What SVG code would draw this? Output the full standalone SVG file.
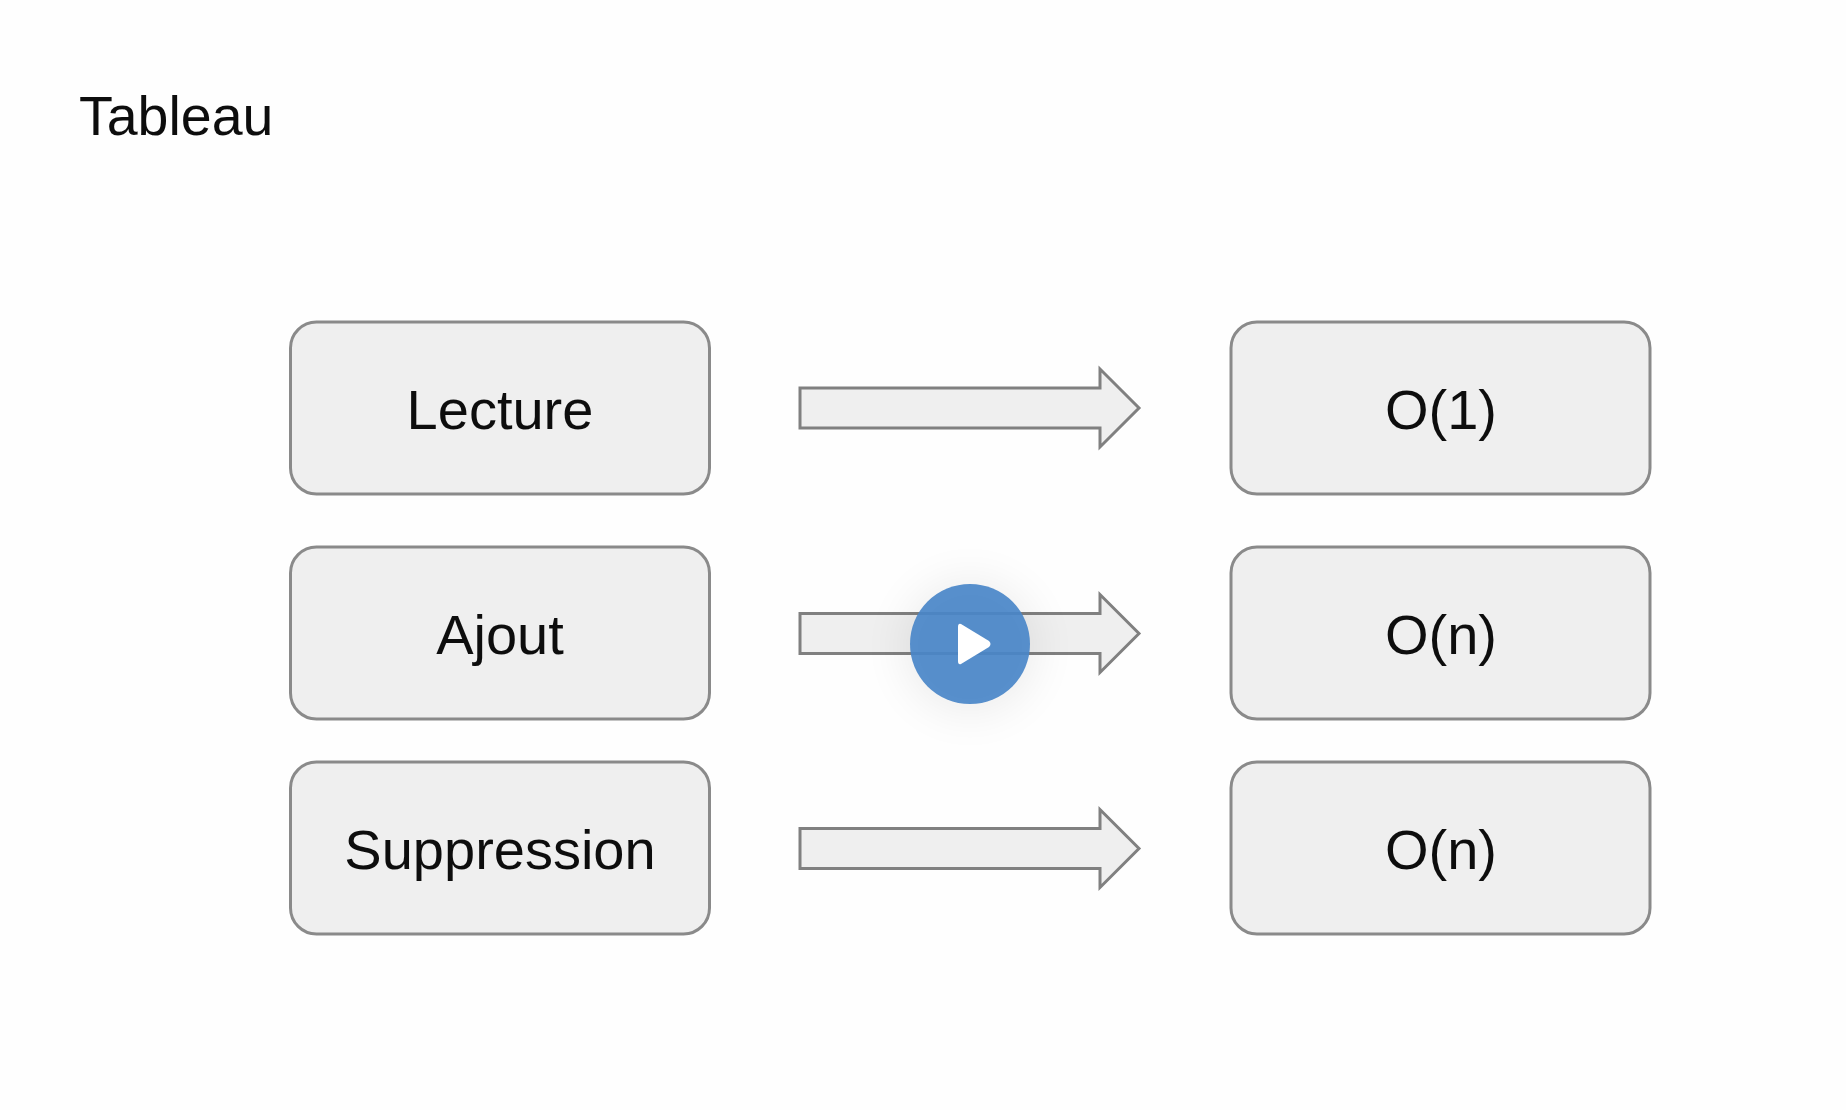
<svg xmlns="http://www.w3.org/2000/svg" width="1846" height="1110" viewBox="0 0 1846 1110">
  <style>
    .box { fill: #efefef; stroke: #8a8a8a; stroke-width: 3; }
    .arrow { fill: #efefef; stroke: #808080; stroke-width: 3; stroke-linejoin: miter; }
    text { font-family: "Liberation Sans", Arial, sans-serif; fill: #111; }
    .label { font-size: 56px; text-anchor: middle; }
    .title { font-size: 55.5px; }
  </style>
  <defs>
    <filter id="soft" x="-5%" y="-5%" width="110%" height="110%"><feGaussianBlur stdDeviation="0.7"/></filter>
    <filter id="shadow" x="-100%" y="-100%" width="300%" height="300%"><feGaussianBlur stdDeviation="24"/></filter>
    <path id="arr" d="M0 -20 H300 V-39 L339 0 L300 39 V20 H0 Z"/>
  </defs>
  <rect width="1846" height="1110" fill="#fefefe"/>
  <g filter="url(#soft)">
    <text id="title" class="title" x="79" y="134.5">Tableau</text>
    <g id="connectors">
      <use href="#arr" class="arrow" x="800" y="408"/>
      <use href="#arr" class="arrow" x="800" y="633.5"/>
      <use href="#arr" class="arrow" x="800" y="848.5"/>
    </g>
    <g id="lecture"><rect class="box" x="290.5" y="322" width="419" height="172" rx="26"/><text class="label" x="500" y="429">Lecture</text></g>
    <g id="ajout"><rect class="box" x="290.5" y="547" width="419" height="172" rx="26"/><text class="label" x="500" y="654">Ajout</text></g>
    <g id="suppression"><rect class="box" x="290.5" y="762" width="419" height="172" rx="26"/><text class="label" x="500" y="869">Suppression</text></g>
    <g id="o1"><rect class="box" x="1231" y="322" width="419" height="172" rx="26"/><text class="label" x="1441" y="429">O(1)</text></g>
    <g id="on1"><rect class="box" x="1231" y="547" width="419" height="172" rx="26"/><text class="label" x="1441" y="654">O(n)</text></g>
    <g id="on2"><rect class="box" x="1231" y="762" width="419" height="172" rx="26"/><text class="label" x="1441" y="869">O(n)</text></g>
  </g>
  <g id="play">
    <circle cx="970" cy="647" r="64" fill="#000" opacity="0.08" filter="url(#shadow)"/>
    <circle cx="970" cy="644" r="60" fill="#4986c8" fill-opacity="0.92"/>
    <path d="M961 624 L989 641 Q992 644 989 647 L961 664 Q958 665 958 661 V627 Q958 623 961 624 Z" fill="#fff"/>
  </g>
</svg>
